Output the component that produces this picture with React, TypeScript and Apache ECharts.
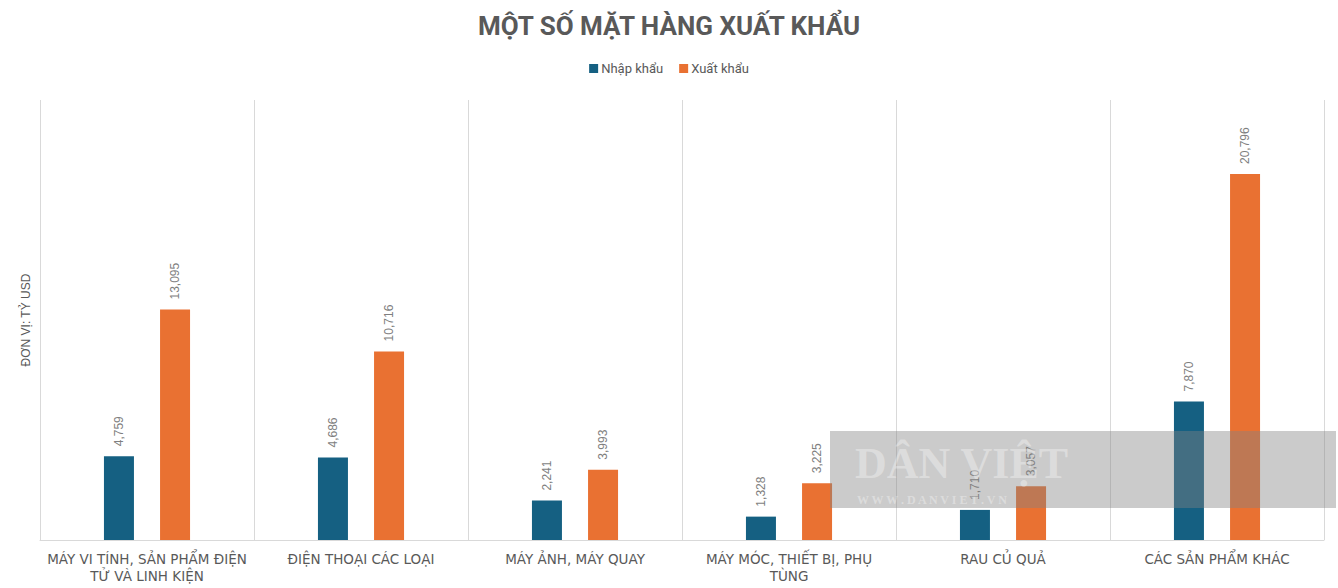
import React, { useEffect, useRef } from "react";
import * as echarts from "echarts";

const categories = [
  "MÁY VI TÍNH, SẢN PHẨM ĐIỆN\nTỬ VÀ LINH KIỆN",
  "ĐIỆN THOẠI CÁC LOẠI",
  "MÁY ẢNH, MÁY QUAY",
  "MÁY MÓC, THIẾT BỊ, PHỤ\nTÙNG",
  "RAU CỦ QUẢ",
  "CÁC SẢN PHẨM KHÁC",
];
const importValues = [4759, 4686, 2241, 1328, 1710, 7870];
const exportValues = [13095, 10716, 3993, 3225, 3057, 20796];
const seriesNames = ["Nhập khẩu", "Xuất khẩu"];

export default function App() {
  const ref = useRef<HTMLDivElement>(null);
  useEffect(() => {
    if (!ref.current) return;
    const chart = echarts.init(ref.current, null, { renderer: "svg" });
    const labelCfg = {
      show: true,
      position: "top",
      rotate: 90,
      distance: 10,
      align: "left",
      verticalAlign: "middle",
      color: "#7f7f7f",
      fontFamily: "Liberation Sans, Arial, sans-serif",
      fontSize: 12,
      formatter: (p: any) => Number(p.value).toLocaleString("en-US"),
    };
    chart.setOption({
      animation: false,
      backgroundColor: "#ffffff",
      title: {
        text: "MỘT SỐ MẶT HÀNG XUẤT KHẨU",
        left: "center",
        top: 8,
        textStyle: {
          fontFamily: "Roboto, sans-serif",
          fontWeight: "bold",
          fontSize: 26,
          color: "#595959",
        },
      },
      legend: {
        top: 57,
        left: "center",
        itemWidth: 9,
        itemHeight: 9,
        itemGap: 16,
        icon: "rect",
        textStyle: {
          fontFamily: "Roboto, sans-serif",
          fontSize: 13,
          color: "#595959",
          padding: [0, 0, 0, -2],
        },
        data: seriesNames,
      },
      grid: { left: 40, right: 14, top: 100, bottom: 48 },
      xAxis: {
        type: "category",
        data: categories,
        axisTick: { show: false },
        axisLine: { show: true, lineStyle: { color: "#d9d9d9" } },
        splitLine: { show: true, lineStyle: { color: "#d9d9d9" } },
        axisLabel: {
          interval: 0,
          margin: 10,
          color: "#595959",
          fontFamily: "DejaVu Sans, sans-serif",
          fontSize: 13.5,
          lineHeight: 17,
        },
      },
      yAxis: {
        type: "value",
        min: 0,
        max: 25000,
        axisLabel: { show: false },
        axisLine: { show: false },
        axisTick: { show: false },
        splitLine: { show: false },
        name: "ĐƠN VỊ: TỶ USD",
        nameLocation: "middle",
        nameGap: 8,
        nameTextStyle: {
          color: "#595959",
          fontFamily: "Liberation Sans, Arial, sans-serif",
          fontSize: 12,
        },
      },
      series: [
        {
          name: seriesNames[0],
          type: "bar",
          data: importValues,
          barWidth: 30,
          barGap: "87%",
          itemStyle: { color: "#156082" },
          label: labelCfg,
        },
        {
          name: seriesNames[1],
          type: "bar",
          data: exportValues,
          barWidth: 30,
          itemStyle: { color: "#E97132" },
          label: labelCfg,
        },
      ],
      graphic: [
        {
          type: "rect",
          z: 100,
          zlevel: 1,
          shape: { x: 830, y: 431, width: 506, height: 77 },
          style: { fill: "rgba(130,130,130,0.42)" },
        },
        {
          type: "text",
          z: 101,
          zlevel: 1,
          x: 855,
          y: 441,
          style: {
            text: "DÂN VIỆT",
            font: "bold 44px 'Liberation Serif', serif",
            fill: "rgba(255,255,255,0.35)",
          },
        },
        {
          type: "text",
          z: 101,
          zlevel: 1,
          x: 857,
          y: 494,
          style: {
            text: "W W W . D A N V I E T . V N",
            font: "bold 12px 'Liberation Serif', serif",
            fill: "rgba(255,255,255,0.35)",
          },
        },
      ],
    });
    return () => chart.dispose();
  }, []);
  return (
    <div
      ref={ref}
      style={{ position: "fixed", left: 0, top: 0, width: 1338, height: 588 }}
    />
  );
}
